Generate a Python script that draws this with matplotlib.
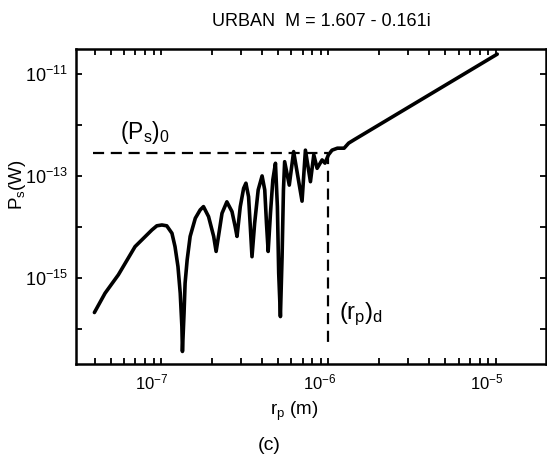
import matplotlib
matplotlib.use("Agg")
import matplotlib.pyplot as plt
from matplotlib.ticker import FixedLocator, FixedFormatter, NullLocator
from matplotlib.transforms import ScaledTranslation

plt.rcParams['font.family'] = ['Liberation Sans', 'DejaVu Sans']
plt.rcParams['mathtext.fontset'] = 'custom'
plt.rcParams['mathtext.rm'] = 'Liberation Sans'
plt.rcParams['mathtext.it'] = 'Liberation Sans:italic'
plt.rcParams['mathtext.bf'] = 'Liberation Sans:bold'
plt.rcParams['mathtext.default'] = 'regular'

# ---- data ----
title = "URBAN  M = 1.607 - 0.161i"

r_p = [3.99e-8, 4.62e-8, 5.55e-8, 6.98e-8, 8.80e-8, 9.42e-8, 1.01e-7, 1.08e-7,
       1.16e-7, 1.21e-7, 1.26e-7, 1.30e-7, 1.33e-7, 1.34e-7, 1.37e-7, 1.39e-7,
       1.43e-7, 1.49e-7, 1.60e-7, 1.71e-7, 1.79e-7,
       1.92e-7, 2.06e-7, 2.13e-7, 2.20e-7, 2.31e-7, 2.47e-7, 2.65e-7, 2.77e-7,
       2.84e-7, 2.97e-7, 3.11e-7, 3.21e-7, 3.33e-7, 3.41e-7, 3.49e-7, 3.62e-7,
       3.80e-7, 4.01e-7, 4.16e-7, 4.26e-7, 4.36e-7, 4.50e-7, 4.65e-7, 4.82e-7,
       4.95e-7, 5.04e-7, 5.16e-7, 5.28e-7, 5.38e-7, 5.47e-7,
       5.83e-7, 6.19e-7, 6.95e-7, 7.28e-7, 7.80e-7, 8.17e-7, 8.55e-7, 9.16e-7,
       9.53e-7, 1.0e-6, 1.05e-6, 1.13e-6, 1.24e-6, 1.32e-6, 1.42e-6, 1.02e-5]
P_s = [2.09e-16, 5.0e-16, 1.15e-15, 4.1e-15, 8.7e-15, 1.05e-14, 1.09e-14, 1.05e-14,
       7.5e-15, 4.1e-15, 1.67e-15, 5.0e-16, 1.11e-16, 3.6e-17, 2.03e-16, 7.9e-16,
       2.25e-15, 6.5e-15, 1.48e-14, 2.15e-14, 2.5e-14,
       1.59e-14, 6.5e-15, 3.3e-15, 6.5e-15, 1.85e-14, 3.1e-14, 2.0e-14, 1.01e-14,
       6.5e-15, 2.5e-14, 5.7e-14, 7.2e-14, 3.9e-14, 1.01e-14, 2.6e-15, 1.18e-14,
       5.3e-14, 1.0e-13, 5.3e-14, 1.18e-14, 3.3e-15, 1.85e-14, 8.4e-14, 1.77e-13,
       2.5e-14, 1.24e-15, 1.74e-16, 2.6e-15, 5.3e-14, 1.9e-13,
       6.6e-14, 3.0e-13, 3.2e-14, 3.2e-13, 7.7e-14, 2.6e-13, 1.41e-13, 2.06e-13,
       1.78e-13, 2.6e-13, 3.2e-13, 3.5e-13, 3.5e-13, 4.4e-13, 5.1e-13, 2.45e-11]

Ps0 = 2.8e-13          # (P_s)_0 level
rpd = 1.0e-6           # (r_p)_d
dash_x_start = 3.9e-8
dash_y_end = 4.5e-17

x_ticks = [4e-8, 5e-8, 6e-8, 7e-8, 8e-8, 9e-8,
           1e-7, 2e-7, 3e-7, 4e-7, 5e-7, 6e-7, 7e-7, 8e-7, 9e-7,
           1e-6, 2e-6, 3e-6, 4e-6, 5e-6, 6e-6, 7e-6, 8e-6, 9e-6, 1e-5]
x_labeled = {1e-7: r"$10^{-7}$", 1e-6: r"$10^{-6}$", 1e-5: r"$10^{-5}$"}
y_ticks = [1e-16, 1e-15, 1e-14, 1e-13, 1e-12, 1e-11]
y_labels = ["", r"$10^{-15}$", "", r"$10^{-13}$", "", r"$10^{-11}$"]

# ---- figure ----
W, H = 547, 454
fig = plt.figure(figsize=(W / 100, H / 100), dpi=100)
ax = fig.add_axes([76 / W, 1 - 364 / H, 470 / W, 315 / H])
ax.set_xscale('log')
ax.set_yscale('log')
ax.set_xlim(10 ** -7.509, 10 ** -4.70)
ax.set_ylim(10 ** -16.69, 10 ** -10.51)

ax.plot(r_p, P_s, color='black', lw=2.6, solid_joinstyle='round',
        solid_capstyle='round')
ax.plot([dash_x_start, rpd], [Ps0, Ps0], color='black', lw=1.6,
        linestyle=(0, (5, 3)))
ax.plot([rpd, rpd], [Ps0, dash_y_end], color='black', lw=1.6,
        linestyle=(0, (5, 3)))

ax.xaxis.set_major_locator(FixedLocator(x_ticks))
ax.xaxis.set_major_formatter(FixedFormatter(
    [x_labeled.get(t, "") for t in x_ticks]))
ax.xaxis.set_minor_locator(NullLocator())
ax.yaxis.set_major_locator(FixedLocator(y_ticks))
ax.yaxis.set_major_formatter(FixedFormatter(y_labels))
ax.yaxis.set_minor_locator(NullLocator())

ax.tick_params(axis='both', which='major', direction='in', length=4.5,
               width=1.3, top=True, right=True, colors='black')
ax.tick_params(axis='x', labelsize=12, pad=6)
ax.tick_params(axis='y', labelsize=13, pad=6)
for sp in ax.spines.values():
    sp.set_linewidth(1.8)

shift = ScaledTranslation(-0.09, 0, fig.dpi_scale_trans)
for lab in ax.get_xticklabels():
    lab.set_transform(lab.get_transform() + shift)

# annotations
fig.text(145 / W, 1 - 133 / H, r"$(P_s)_0$", fontsize=16.5,
         ha='center', va='center')
fig.text(361 / W, 1 - 314 / H, r"$(r_p)_d$", fontsize=17,
         ha='center', va='center')

fig.text(321 / W, 1 - 22 / H, title, fontsize=13, ha='center', va='center')
fig.text(294 / W, 1 - 411 / H, r"$r_p$ (m)", fontsize=13.5, ha='center',
         va='center')
fig.text(18 / W, 1 - 185 / H, r"$P_s$(W)", fontsize=13.5, ha='center',
         va='center', rotation=90)
fig.text(269 / W, 1 - 446 / H, "(c)", fontsize=14, ha='center', va='center')

fig.savefig('out.png', dpi=100)
